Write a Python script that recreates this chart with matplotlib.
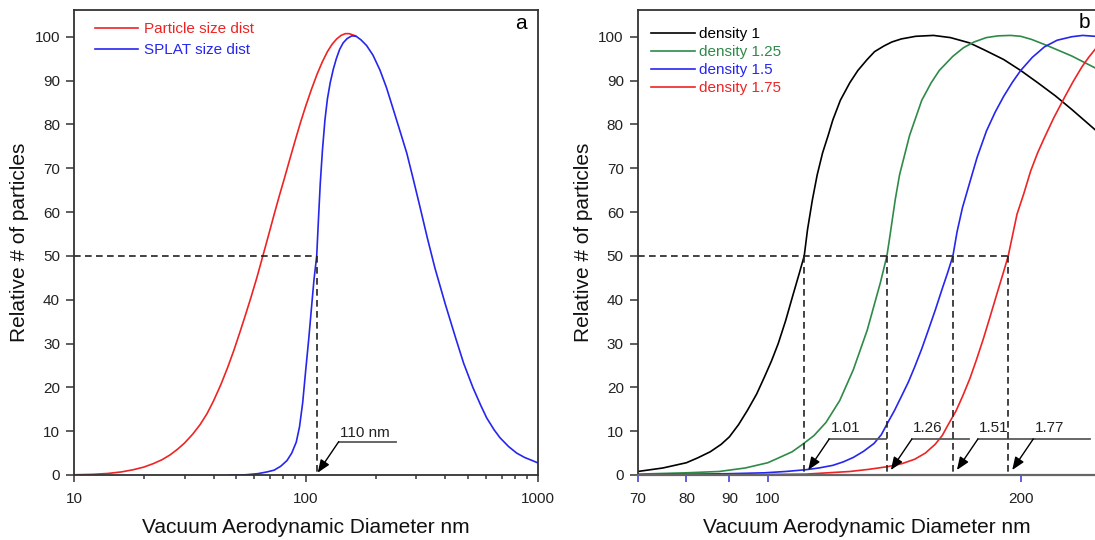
import matplotlib
matplotlib.use("Agg")
import matplotlib.pyplot as plt
from matplotlib.ticker import FixedLocator, NullFormatter, NullLocator

# ---- panel a: particle size distribution vs SPLAT size distribution ----
part_x = [10, 12, 14, 16, 18, 20, 22, 24, 26, 28, 30, 32.5, 35, 37.5, 40, 43, 46, 49, 52, 55,
          58, 61.5, 65, 69, 73, 77, 81, 85.5, 90, 95, 100, 106, 112, 118, 124, 130, 136, 142,
          148, 154, 160, 164]
part_y = [0.05, 0.15, 0.35, 0.7, 1.2, 1.8, 2.6, 3.5, 4.6, 5.9, 7.3, 9.3, 11.5, 14.0, 16.9, 20.6,
          24.5, 28.5, 32.6, 36.6, 40.5, 45.0, 49.6, 54.6, 59.4, 63.8, 67.8, 72.2, 76.3, 80.5,
          84.2, 88.1, 91.5, 94.3, 96.6, 98.3, 99.5, 100.3, 100.7, 100.7, 100.4, 100.2]

splat_x = [47, 55, 62, 68, 73, 78, 83, 87, 91, 94, 97, 100, 103, 106, 108.5, 111.5, 113.5, 115.5,
           118, 121, 124, 127.5, 131.5, 135.5, 140, 145, 151, 158, 165, 173, 183, 195, 209, 223,
           239, 255, 273, 291, 311, 335, 361, 400, 442, 480, 526, 570, 604, 650, 689, 750, 813,
           880, 959, 1000]
splat_y = [0, 0.05, 0.3, 0.7, 1.1, 2.0, 3.3, 5.0, 7.5, 11, 16.5, 24, 31, 38.5, 44.5, 50, 58.5, 66.5,
           74, 81, 85.8, 89.5, 92.6, 95, 97.1, 98.6, 99.6, 100.2, 100.1, 99.3, 98, 95.8, 92.4, 88.4,
           83.3, 78.5, 73.4, 67.5, 61.2, 54, 47.2, 39, 31.5, 25.5, 20, 15.8, 13, 10.3, 8.5, 6.5,
           5.0, 4.0, 3.2, 2.8]

a_d50 = 111.5
a_label = "110 nm"
a_names = ["Particle size dist", "SPLAT size dist"]

# ---- panel b: density 1 .. 1.75 ----
d1_x = [70, 75, 80, 82.5, 85.4, 88, 90, 92.3, 94.6, 97, 99.1, 101, 102.9, 105, 107, 109, 110.5,
        111.5, 113, 114.5, 116.2, 118, 119.5, 122, 125.2, 128, 131.3, 134, 137.5, 140.5, 144.2,
        150, 157.5, 165, 173.8, 181, 190.9, 200, 209.6, 220, 230.1, 245.2]
d1_y = [0.8, 1.6, 2.8, 3.9, 5.3, 7.0, 8.7, 11.5, 14.8, 18.5, 22.4, 26, 30, 35.2, 40.7, 46, 50,
        56, 62.8, 68.5, 73.5, 77.5, 81, 85.5, 89.5, 92.3, 94.8, 96.6, 97.9, 98.8, 99.5,
        100.1, 100.3, 99.8, 98.6, 97.0, 94.8, 92.3, 89.5, 86.5, 83.4, 78.8]

d125_x = [70, 80, 87.5, 94, 100, 103, 106.9, 110, 113.5, 117.3, 121.8, 126.4, 131.3, 136.2, 138.6,
          139.5, 141.8, 143.5, 147.5, 152.5, 156.5, 160, 166, 171, 176, 182, 188, 194.5, 200,
          206, 215.6, 230.1, 245.2]
d125_y = [0.2, 0.5, 0.8, 1.6, 2.8, 3.9, 5.3, 7.0, 9.0, 12.0, 17.0, 24.0, 33.0, 44.0, 50,
          53.5, 62.8, 68.5, 77.5, 85.5, 89.5, 92.3, 95.5, 97.5, 98.8, 99.8, 100.2, 100.3, 100.1,
          99.4, 97.9, 95.6, 92.9]

d15_x = [70, 90, 99.1, 105, 110.9, 115, 119.5, 123, 126.4, 130, 133.8, 136.5, 138.8, 141.5, 144.2,
         147, 149.6, 152.5, 155.3, 158.3, 161.3, 163.8, 166.1, 168, 170.5, 173.8, 177.5, 182.1,
         186.5, 190.9, 195.5, 200, 206.5, 213.5, 221, 230.1, 237, 245.2]
d15_y = [0.05, 0.3, 0.5, 0.8, 1.2, 1.6, 2.2, 3.0, 4.0, 5.4, 7.2, 9.2, 11.8, 14.7, 17.9,
         21.2, 24.7, 28.8, 33.1, 37.7, 42.5, 46.3, 50, 55.5, 61, 66.5, 72.5, 78.5,
         82.8, 86.4, 89.6, 92.3, 95.3, 97.7, 99.2, 100, 100.3, 100.1]

d175_x = [70, 90, 110.9, 125.2, 132, 138.8, 144.5, 149.6, 154, 158.2, 161.3, 164.3, 167.5, 170.6,
          174, 177.1, 180.5, 183.9, 187.5, 190.6, 193.3, 195.5, 198, 201.8, 205.5, 209.5, 213.5,
          219, 225.9, 231, 236.7, 241, 245.2]
d175_y = [0, 0.05, 0.2, 0.8, 1.3, 1.9, 2.6, 3.6, 5.0, 7.0, 9.0, 11.8, 14.6, 18.0,
          22.0, 26.2, 31.0, 36.1, 41.5, 46.0, 50, 54.5, 59.5, 64.3, 69.3, 73.5, 77,
          81.5, 86.4, 89.8, 93.2, 95.3, 97.1]

b_names = ["density 1", "density 1.25", "density 1.5", "density 1.75"]
b_d50 = [110.5, 138.6, 166.1, 193.3]
b_labels = ["1.01", "1.26", "1.51", "1.77"]

RED = "#ee2424"
BLUE = "#2626ee"
GREEN = "#2f8a48"
DASH = (0, (4, 2.6))

plt.rcParams["font.family"] = ["Liberation Sans", "DejaVu Sans"]

W, H = 1095, 540
fig = plt.figure(figsize=(W / 100, H / 100), dpi=100)
axa = fig.add_axes([74 / W, 65 / H, 463.5 / W, 465 / H])
axb = fig.add_axes([637.7 / W, 65 / H, (W - 637.7) / W, 465 / H])


def style(ax):
    ax.set_xscale("log")
    ax.set_ylim(0, 106.1)
    ax.set_yticks(range(0, 101, 10))
    for s in ax.spines.values():
        s.set_color("#333333")
        s.set_linewidth(1.3)
    ax.tick_params(axis="y", direction="out", length=6, width=1.1, pad=4,
                   labelsize=11, color="#333333", labelcolor="#222222")
    ax.tick_params(axis="x", which="major", direction="out", length=5, width=1.1, pad=7,
                   labelsize=11, color="#333333", labelcolor="#222222")
    ax.tick_params(axis="x", which="minor", direction="out", length=3, width=1.1,
                   color="#333333")
    ax.set_xlabel("Vacuum Aerodynamic Diameter nm", fontsize=15, labelpad=9, color="#111111")
    ax.set_ylabel("Relative # of particles", fontsize=15, labelpad=4, color="#111111")


def leader(ax, x, label, dtip, tip_up, tdx, tdy):
    # arrow from a knee point down-left to just above the axis at x
    px, py = ax.transData.transform((x, 0))
    inv = ax.transData.inverted()
    tip = (px + dtip, py + tip_up)
    knee = (tip[0] + 21, tip[1] + 31)
    end = (knee[0] + 57, knee[1])
    tip_d, knee_d, end_d = inv.transform([tip, knee, end])
    ax.annotate("", xy=tip_d, xytext=knee_d,
                arrowprops=dict(arrowstyle="-|>,head_length=0.55,head_width=0.22",
                                color="black", lw=1.0, shrinkA=0, shrinkB=0,
                                mutation_scale=14))
    ax.plot([knee_d[0], end_d[0]], [knee_d[1], end_d[1]], color="#5a5a5a", lw=1.3)
    t = inv.transform((knee[0] + tdx, knee[1] + tdy))
    ax.text(t[0], t[1], label, ha="center", va="center", fontsize=11, color="#222222")


# ---------------- panel a ----------------
style(axa)
axa.set_xlim(10, 1000)
axa.xaxis.set_major_locator(FixedLocator([10, 100, 1000]))
axa.set_xticklabels(["10", "100", "1000"])
axa.xaxis.set_minor_formatter(NullFormatter())

axa.plot(part_x, part_y, color=RED, lw=1.2, label=a_names[0])
axa.plot(splat_x, splat_y, color=BLUE, lw=1.2, label=a_names[1])
axa.plot([10, a_d50], [50, 50], color="#222222", lw=1.2, ls=DASH)
axa.plot([a_d50, a_d50], [50, 0], color="#222222", lw=1.2, ls=DASH)
leader(axa, a_d50, a_label, 1, 2.3, 26, 9)

axa.legend(loc="upper left", bbox_to_anchor=(0.045, 0.974), frameon=False, fontsize=11,
           handlelength=2.8, handletextpad=0.4, labelspacing=0.45, borderpad=0,
           borderaxespad=0, labelcolor="linecolor")
axa.text(0.964, 0.97, "a", transform=axa.transAxes, fontsize=15, ha="center", va="center")

# ---------------- panel b ----------------
style(axb)
axb.spines["right"].set_visible(False)
axb.set_xlim(70, 245.2)
axb.xaxis.set_major_locator(FixedLocator([70, 80, 90, 100, 200]))
axb.set_xticklabels(["70", "80", "90", "100", "200"])
axb.xaxis.set_minor_locator(NullLocator())
axb.spines["bottom"].set_color("#666666")
axb.spines["bottom"].set_linewidth(1.6)
axb.tick_params(axis="x", which="major", color="#3333dd")
axb.xaxis.get_major_ticks()[0].tick1line.set_color("#333333")

for xs, ys, c, name in zip([d1_x, d125_x, d15_x, d175_x], [d1_y, d125_y, d15_y, d175_y],
                           ["black", GREEN, BLUE, RED], b_names):
    axb.plot(xs, ys, color=c, lw=1.2, label=name)

axb.plot([70, max(b_d50)], [50, 50], color="#222222", lw=1.2, ls=DASH)
for d, lab in zip(b_d50, b_labels):
    axb.plot([d, d], [50, 0], color="#222222", lw=1.2, ls=DASH)
    leader(axb, d, lab, 4, 5, 16, 11)

axb.legend(loc="upper left", bbox_to_anchor=(0.028, 0.963), frameon=False, fontsize=11,
           handlelength=2.9, handletextpad=0.3, labelspacing=0.26, borderpad=0,
           borderaxespad=0, labelcolor="linecolor")
axb.text(0.976, 0.974, "b", transform=axb.transAxes, fontsize=15, ha="center", va="center")

fig.savefig("out.png", dpi=100)
